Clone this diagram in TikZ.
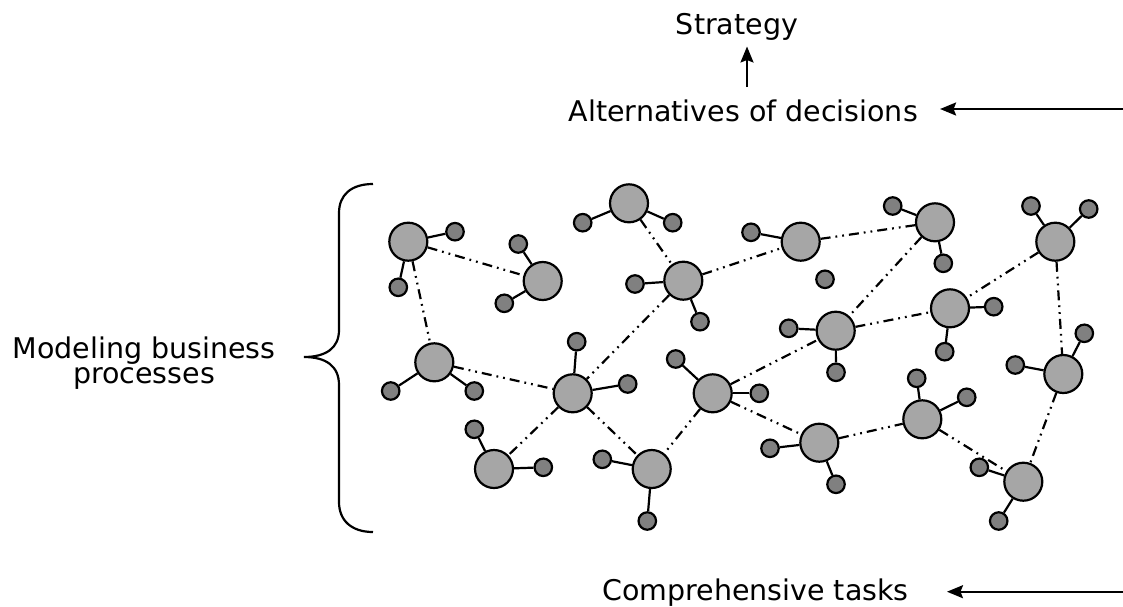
\documentclass[tikz,border=0pt]{standalone}
\usepackage{fontspec}
\setmainfont{DejaVu Sans}
\usetikzlibrary{arrows.meta}
\definecolor{bigfill}{RGB}{166,166,166}
\definecolor{smallfill}{RGB}{128,128,128}
\tikzset{
  big/.style={circle,draw=black,line width=2.2pt,fill=bigfill,minimum size=38pt,inner sep=0pt},
  small/.style={circle,draw=black,line width=2.2pt,fill=smallfill,minimum size=17.5pt,inner sep=0pt},
  stub/.style={line width=2.2pt},
  link/.style={line width=2.2pt,dash pattern=on 10pt off 5pt on 1.8pt off 5pt on 1.8pt off 5pt},
  lbl/.style={inner sep=0pt,font=\fontsize{28.5}{25}\selectfont},
  arr/.style={line width=2.2pt,-{Stealth[length=16pt,width=13pt,inset=2.5pt]}},
}
\begin{document}
\begin{tikzpicture}[x=1pt,y=-1pt]
\useasboundingbox (0,0) rectangle (1123,606);

% labels
\node[lbl,anchor=base] (strat) at (737,34.5) {Strategy};
\node[lbl,anchor=base] (alt) at (743.3,121.7) {Alternatives of decisions};
\node[lbl,anchor=base] (comp) at (755.5,600) {Comprehensive tasks};
\node[lbl,align=center,anchor=base] (model) at (144,383.5) {Modeling business\\processes};

% arrows
\coordinate (altsrc) at (1123,109);
\coordinate (compsrc) at (1123,591.7);
\coordinate (upfoot) at (747,87);
\coordinate (uptip) at (747,46.5);
\draw[arr,shorten >=22pt] (altsrc) -- (alt.east |- altsrc);
\draw[arr,shorten >=38pt] (compsrc) -- (comp.east |- compsrc);
\draw[arr] (upfoot) -- (uptip);

% brace
\draw[line width=2.2pt] (373,184) .. controls (351,184) and (339,195) .. (339,213)
  -- (339,330) .. controls (339,348) and (326,357) .. (304,357)
  .. controls (326,357) and (339,366) .. (339,385)
  -- (339,502) .. controls (339,520) and (351,532) .. (373,532);

% process nodes
\node[big] (A) at (408.3,241.7) {};
\node[big] (B) at (542.7,281) {};
\node[big] (C) at (629,203.3) {};
\node[big] (D) at (683.3,280.7) {};
\node[big] (E) at (800.7,241.7) {};
\node[big] (F) at (935,222.3) {};
\node[big] (G) at (1055.3,241.7) {};
\node[big] (H) at (950,308.3) {};
\node[big] (I) at (835.7,330.7) {};
\node[big] (J) at (434.3,362.3) {};
\node[big] (K) at (572.7,393.3) {};
\node[big] (L) at (712.7,393.3) {};
\node[big] (M) at (494,469) {};
\node[big] (N) at (651.7,469) {};
\node[big] (O) at (819.3,442.7) {};
\node[big] (P) at (922.3,419.3) {};
\node[big] (Q) at (1063.3,374) {};
\node[big] (R) at (1023.3,481.7) {};

% attached elements
\node[small] (a1) at (455,231.7) {};
\node[small] (a2) at (398.3,287.3) {};
\node[small] (b1) at (518.3,244) {};
\node[small] (b2) at (504.3,303.3) {};
\node[small] (c1) at (582.7,222.7) {};
\node[small] (c2) at (672.7,222.7) {};
\node[small] (d1) at (635,284) {};
\node[small] (d2) at (700,321.7) {};
\node[small] (e1) at (751,232.3) {};
\node[small] (e2) at (825,279.3) {};
\node[small] (f1) at (892.7,206) {};
\node[small] (f2) at (943.3,263.3) {};
\node[small] (g1) at (1031,206) {};
\node[small] (g2) at (1088.7,209) {};
\node[small] (h1) at (993.7,306.7) {};
\node[small] (h2) at (944.7,351.7) {};
\node[small] (i1) at (788.7,328.3) {};
\node[small] (i2) at (836,372.3) {};
\node[small] (j1) at (390.7,391) {};
\node[small] (j2) at (474.3,391) {};
\node[small] (k1) at (576.7,341.7) {};
\node[small] (k2) at (627.7,384) {};
\node[small] (l1) at (675.7,359) {};
\node[small] (l2) at (759.3,393.3) {};
\node[small] (m1) at (474.3,429.3) {};
\node[small] (m2) at (543.3,467.3) {};
\node[small] (n1) at (602.3,459.3) {};
\node[small] (n2) at (647.3,521) {};
\node[small] (o1) at (770,448.3) {};
\node[small] (o2) at (836,484.3) {};
\node[small] (p1) at (916.7,378.3) {};
\node[small] (p2) at (966.7,397.3) {};
\node[small] (q1) at (1015.3,365) {};
\node[small] (q2) at (1084.3,333.3) {};
\node[small] (r1) at (979.3,467.3) {};
\node[small] (r2) at (998.7,521) {};

% solid attachments
\foreach \u/\v in {A/a1,A/a2,B/b1,B/b2,C/c1,C/c2,D/d1,D/d2,E/e1,F/f1,F/f2,
  G/g1,G/g2,H/h1,H/h2,I/i1,I/i2,J/j1,J/j2,K/k1,K/k2,L/l1,L/l2,M/m1,M/m2,
  N/n1,N/n2,O/o1,O/o2,P/p1,P/p2,Q/q1,Q/q2,R/r1,R/r2}
  \draw[stub] (\u) -- (\v);

% dash-dot links between processes
\foreach \u/\v in {A/B,A/J,C/D,D/E,D/K,E/F,F/I,I/H,G/Q,G/H,J/K,K/M,K/N,
  L/N,L/I,L/O,O/P,P/R,Q/R}
  \draw[link] (\u) -- (\v);
\end{tikzpicture}
\end{document}
